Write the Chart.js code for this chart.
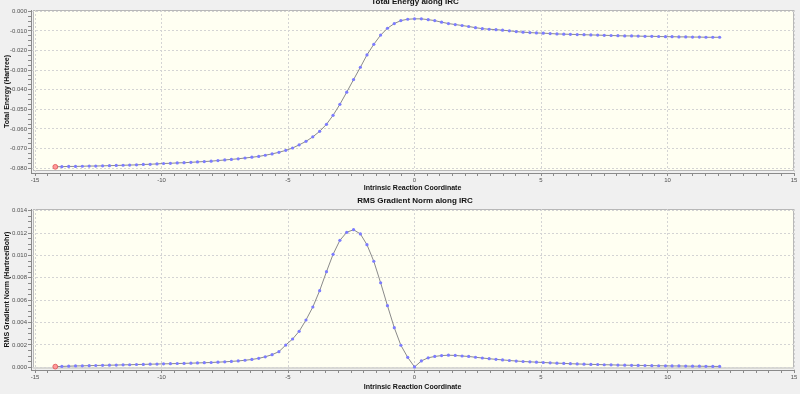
<!DOCTYPE html>
<html><head><meta charset="utf-8">
<script src="https://cdn.jsdelivr.net/npm/chart.js@4.4.0/dist/chart.umd.min.js"></script>
<style>
html,body{margin:0;padding:0;background:#f0f0f0;width:800px;height:394px;overflow:hidden;}
.panel{position:absolute;left:0;width:800px;}
#p1{top:0;height:196px;}
#p2{top:196px;height:198px;}
canvas{display:block;}
</style></head><body>
<div class="panel" id="p1"><canvas id="c1" width="800" height="196"></canvas></div>
<div class="panel" id="p2"><canvas id="c2" width="800" height="198"></canvas></div>
<script>
// Intrinsic reaction coordinate of each IRC point
const ircCoordinate = [
 -14.20,-13.94,-13.67,-13.40,-13.13,-12.86,-12.60,-12.33,-12.06,-11.79,
 -11.52,-11.26,-10.99,-10.72,-10.45,-10.18,-9.92,-9.65,-9.38,-9.11,
 -8.84,-8.58,-8.31,-8.04,-7.77,-7.50,-7.24,-6.97,-6.70,-6.43,
 -6.16,-5.90,-5.63,-5.36,-5.09,-4.82,-4.56,-4.29,-4.02,-3.75,
 -3.48,-3.22,-2.95,-2.68,-2.41,-2.14,-1.88,-1.61,-1.34,-1.07,
 -0.80,-0.54,-0.27,0.00,0.27,0.54,0.80,1.07,1.34,1.61,
 1.88,2.14,2.41,2.68,2.95,3.22,3.48,3.75,4.02,4.29,
 4.56,4.82,5.09,5.36,5.63,5.90,6.16,6.43,6.70,6.97,
 7.24,7.50,7.77,8.04,8.31,8.58,8.84,9.11,9.38,9.65,
 9.92,10.18,10.45,10.72,10.99,11.26,11.52,11.79,12.06
];
// Total energy (Hartree, relative)
const totalEnergy = [
 -0.0793,-0.0792,-0.0791,-0.0791,-0.0790,-0.0789,-0.0789,-0.0788,-0.0787,-0.0786,
 -0.0785,-0.0784,-0.0783,-0.0781,-0.0780,-0.0778,-0.0776,-0.0775,-0.0773,-0.0772,
 -0.0770,-0.0768,-0.0766,-0.0764,-0.0761,-0.0758,-0.0755,-0.0752,-0.0748,-0.0744,
 -0.0740,-0.0734,-0.0727,-0.0719,-0.0709,-0.0697,-0.0681,-0.0663,-0.0640,-0.0612,
 -0.0576,-0.0530,-0.0474,-0.0412,-0.0348,-0.0285,-0.0222,-0.0168,-0.0121,-0.0086,
 -0.0062,-0.0047,-0.0040,-0.0038,-0.0038,-0.0042,-0.0047,-0.0055,-0.0062,-0.0067,
 -0.0072,-0.0077,-0.0083,-0.0088,-0.0091,-0.0093,-0.0096,-0.0099,-0.0103,-0.0106,
 -0.0108,-0.0110,-0.0111,-0.0113,-0.0115,-0.0116,-0.0117,-0.0118,-0.0119,-0.0120,
 -0.0121,-0.0122,-0.0123,-0.0124,-0.0125,-0.0125,-0.0126,-0.0127,-0.0127,-0.0128,
 -0.0129,-0.0129,-0.0130,-0.0130,-0.0131,-0.0131,-0.0132,-0.0132,-0.0132
];
// RMS gradient norm (Hartree/Bohr)
const rmsGradient = [
 0.00006,0.00008,0.00010,0.00012,0.00013,0.00015,0.00016,0.00018,0.00019,0.00020,
 0.00022,0.00023,0.00025,0.00026,0.00028,0.00029,0.00031,0.00032,0.00034,0.00035,
 0.00037,0.00039,0.00041,0.00043,0.00046,0.00049,0.00053,0.00057,0.00063,0.00070,
 0.00080,0.00094,0.00113,0.00140,0.00199,0.00253,0.00322,0.00423,0.00539,0.00685,
 0.00855,0.01010,0.01135,0.01207,0.01230,0.01192,0.01096,0.00948,0.00756,0.00551,
 0.00354,0.00197,0.00089,0.00003,0.00057,0.00085,0.00097,0.00105,0.00108,0.00106,
 0.00101,0.00097,0.00090,0.00083,0.00077,0.00071,0.00066,0.00061,0.00056,0.00052,
 0.00049,0.00046,0.00043,0.00040,0.00037,0.00035,0.00032,0.00030,0.00028,0.00026,
 0.00025,0.00023,0.00022,0.00020,0.00019,0.00018,0.00017,0.00016,0.00015,0.00014,
 0.00013,0.00012,0.00012,0.00011,0.00010,0.00010,0.00009,0.00008,0.00008
];
const xMajorTicks = [-15,-10,-5,0,5,10,15];
const energyMajorTicks = [0,-0.01,-0.02,-0.03,-0.04,-0.05,-0.06,-0.07,-0.08];
const gradientMajorTicks = [0,0.002,0.004,0.006,0.008,0.010,0.012,0.014];

Chart.defaults.font.family = '"Liberation Sans", Arial, sans-serif';

function withMinor(majors, parts) {
  const out = [];
  for (let i = 0; i < majors.length; i++) {
    out.push({value: majors[i], major: true});
    if (i < majors.length - 1) {
      const a = majors[i], b = majors[i+1];
      for (let j = 1; j < parts; j++) out.push({value: a + (b - a) * j / parts, major: false});
    }
  }
  return out;
}

const plotBox = {
  id: 'plotBox',
  beforeDraw(chart, args, o) {
    const {ctx, chartArea: ca} = chart;
    ctx.save();
    ctx.fillStyle = '#fffff2';
    ctx.fillRect(ca.left + 2, ca.top, ca.right - ca.left - 2, ca.bottom - ca.top - o.bottomInset);
    ctx.strokeStyle = '#b8b8b8';
    ctx.lineWidth = 1;
    ctx.strokeRect(ca.left + 2.5, ca.top + 0.5, ca.right - ca.left - 3, ca.bottom - ca.top - o.bottomInset - 1);
    ctx.restore();
  },
  afterDraw(chart, args, o) {
    const ctx = chart.ctx;
    ctx.save();
    ctx.font = 'bold 8px "Liberation Sans", Arial, sans-serif';
    ctx.fillStyle = '#111';
    ctx.textAlign = 'center';
    ctx.textBaseline = 'middle';
    ctx.fillText(o.title, o.titleX, o.titleY);
    ctx.restore();
  }
};

function makeChart(id, values, cfg) {
  const points = ircCoordinate.map((x, i) => ({x, y: values[i]}));
  return new Chart(document.getElementById(id), {
    type: 'line',
    data: {datasets: [{
      data: points,
      borderColor: '#8a8a8a',
      borderWidth: 1,
      tension: 0,
      pointRadius: ctx => ctx.dataIndex === 0 ? 2.4 : 1.6,
      pointBackgroundColor: ctx => ctx.dataIndex === 0 ? '#ff9a9a' : '#7c7cff',
      pointBorderColor: ctx => ctx.dataIndex === 0 ? '#e05050' : '#7c7cff',
      pointBorderWidth: ctx => ctx.dataIndex === 0 ? 0.8 : 0,
    }]},
    options: {
      responsive: false,
      animation: false,
      devicePixelRatio: 1,
      layout: {padding: {top: cfg.padTop, right: 6, left: 0, bottom: 0}},
      plugins: {legend: {display: false}, tooltip: {enabled: false},
        plotBox: {title: cfg.title, titleX: 415, titleY: cfg.titleY, bottomInset: cfg.bottomInset}},
      scales: {
        x: {
          type: 'linear', min: -15.16, max: 15,
          afterBuildTicks: s => { s.ticks = withMinor(xMajorTicks, 10); },
          afterFit: s => { s.height = cfg.xHeight; },
          ticks: {autoSkip: false, maxRotation: 0, padding: 1, color: '#505050',
            font: {size: 6},
            callback: (v, i, t) => t[i].major ? String(Math.round(v)) : ''},
          grid: {
            color: c => (c.tick && c.tick.major) ? '#d4d4d4' : 'rgba(0,0,0,0)',
            tickColor: '#8a8a8a', tickLength: 3, lineWidth: 1},
          border: {display: true, color: '#8a8a8a', dash: [2, 2]},
          title: {display: true, text: 'Intrinsic Reaction Coordinate', color: '#111',
            font: {size: 7, weight: 'bold'}, padding: {top: 0, bottom: cfg.xTitlePad}}
        },
        y: {
          type: 'linear', min: cfg.yMin, max: cfg.yMax,
          afterBuildTicks: s => { s.ticks = withMinor(cfg.yTicks, 4); },
          afterFit: s => { s.width = 31; },
          ticks: {autoSkip: false, padding: 1, color: '#505050', font: {size: 6},
            callback: (v, i, t) => t[i].major ? Math.abs(v) < 1e-9 ? '0.000' : v.toFixed(3) : ''},
          grid: {
            color: c => (c.tick && c.tick.major) ? '#d4d4d4' : 'rgba(0,0,0,0)',
            tickColor: '#8a8a8a', tickLength: 3, lineWidth: 1},
          border: {display: true, color: '#8a8a8a', dash: [2, 2]},
          title: {display: true, text: cfg.yTitle, color: '#111',
            font: {size: 7, weight: 'bold'}, padding: {top: 2.5, bottom: 0}}
        }
      }
    },
    plugins: [plotBox]
  });
}

makeChart('c1', totalEnergy, {
  title: 'Total Energy along IRC', titleY: 1.5, padTop: 10, xHeight: 23, xTitlePad: 3.5,
  yMin: -0.08245, yMax: 0.000714, yTicks: energyMajorTicks, yTitle: 'Total Energy (Hartree)',
  bottomInset: 2
});
makeChart('c2', rmsGradient, {
  title: 'RMS Gradient Norm along IRC', titleY: 5, padTop: 13, xHeight: 24, xTitlePad: 2.5,
  yMin: -0.000241, yMax: 0.014152, yTicks: gradientMajorTicks, yTitle: 'RMS Gradient Norm (Hartree/Bohr)',
  bottomInset: 1.5
});
</script>
</body></html>
